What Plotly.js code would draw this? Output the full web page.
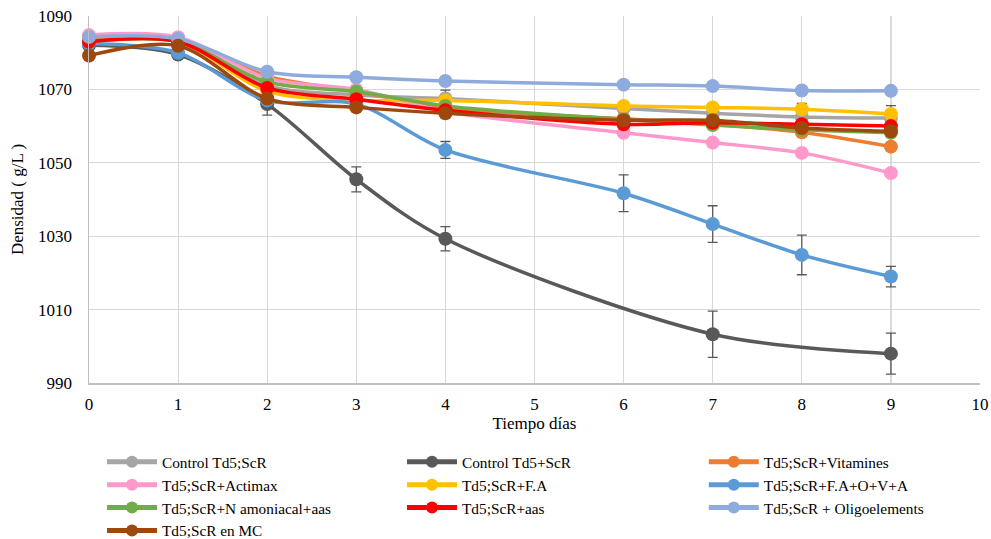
<!DOCTYPE html>
<html>
<head>
<meta charset="utf-8">
<script src="https://cdn.plot.ly/plotly-3.0.1.min.js"></script>
<style>html,body{margin:0;padding:0;background:#fff;}#chart{width:991px;height:539px;}</style>
</head>
<body>
<div id="chart"></div>
<script>
var days = [0, 1, 2, 3, 4, 6, 7, 8, 9];

var controlTd5ScR     = [1083.0, 1083.5, 1071.0, 1068.5, 1067.5, 1064.8, 1063.5, 1062.5, 1062.2];
var controlTd5plusScR = [1082.0, 1079.5, 1066.0, 1045.5, 1029.3, null, 1003.3, null, 998.0];
var vitamines         = [1083.5, 1083.5, 1073.6, 1069.5, 1065.0, 1062.0, 1060.5, 1058.3, 1054.4];
var actimax           = [1084.8, 1084.2, 1073.0, 1070.0, 1064.0, 1058.2, 1055.5, 1052.7, 1047.2];
var fa                = [1083.0, 1083.0, 1069.5, 1067.0, 1067.0, 1065.5, 1065.1, 1064.6, 1063.3];
var faOVA             = [1082.5, 1080.0, 1067.0, 1066.0, 1053.5, 1041.7, 1033.3, 1024.9, 1019.0];
var nAmoniacal        = [1083.0, 1083.0, 1072.0, 1069.4, 1065.5, 1061.8, 1060.3, 1059.0, 1058.2];
var aas               = [1083.0, 1083.0, 1070.4, 1067.3, 1064.3, 1060.5, 1060.9, 1060.5, 1060.0];
var oligoelements     = [1084.3, 1083.8, 1074.8, 1073.3, 1072.3, 1071.3, 1070.9, 1069.7, 1069.6];
var enMC              = [1079.2, 1081.9, 1067.5, 1065.1, 1063.5, 1061.6, 1061.6, 1059.5, 1058.6];

var errControlTd5ScR     = [0, 0, 0, 0, 2.3, 1.5, 2.5, 3.7, 3.4];
var errControlTd5plusScR = [0, 0, 3.0, 3.4, 3.3, 0, 6.3, 0, 5.6];
var errFaOVA             = [0, 0, 0, 0, 2.3, 5.0, 5.0, 5.4, 2.8];

var seriesNames = [
  "Control Td5;ScR", "Control Td5+ScR", "Td5;ScR+Vitamines",
  "Td5;ScR+Actimax", "Td5;ScR+F.A", "Td5;ScR+F.A+O+V+A",
  "Td5;ScR+N amoniacal+aas", "Td5;ScR+aas", "Td5;ScR + Oligoelements",
  "Td5;ScR en MC"
];
var seriesValues = [controlTd5ScR, controlTd5plusScR, vitamines, actimax, fa, faOVA, nAmoniacal, aas, oligoelements, enMC];
var seriesErrors = [errControlTd5ScR, errControlTd5plusScR, null, null, null, errFaOVA, null, null, null, null];
var seriesColors = ["#A5A5A5", "#595959", "#ED7D31", "#FF99CC", "#FFC000", "#5B9BD5", "#70AD47", "#FF0000", "#8FAADC", "#9E480E"];
var legendIds = ["legend", "legend2", "legend3"];

var traces = seriesNames.map(function (name, i) {
  var t = {
    type: "scatter",
    mode: "lines+markers",
    name: name,
    legend: legendIds[i % 3],
    x: days,
    y: seriesValues[i],
    connectgaps: true,
    cliponaxis: false,
    line: { color: seriesColors[i], width: 3.5, shape: "spline", smoothing: 0.9 },
    marker: { color: seriesColors[i], size: 14 }
  };
  if (seriesErrors[i]) {
    t.error_y = { type: "data", array: seriesErrors[i], visible: true, color: "#595959", thickness: 1.3, width: 5 };
  }
  return t;
});

var fontFam = "Liberation Serif, Times New Roman, serif";
function legendAt(xp) {
  return {
    orientation: "v",
    x: xp, xanchor: "left",
    y: -0.170, yanchor: "top",
    itemsizing: "constant",
    itemwidth: 50,
    font: { family: fontFam, size: 15.3, color: "#000" },
    bgcolor: "rgba(0,0,0,0)"
  };
}
var layout = {
  width: 991, height: 539,
  margin: { l: 89, r: 11, t: 16, b: 156, autoexpand: false },
  paper_bgcolor: "#ffffff",
  plot_bgcolor: "#ffffff",
  font: { family: fontFam, size: 16, color: "#000" },
  showlegend: true,
  xaxis: {
    range: [0, 10], dtick: 1, tick0: 0,
    showgrid: true, gridcolor: "#D9D9D9", gridwidth: 1.2,
    showline: true, linecolor: "#BFBFBF", linewidth: 1.5,
    zeroline: false, ticks: "", ticklabelstandoff: 5,
    tickfont: { family: fontFam, size: 17, color: "#000" },
    title: { text: "Tiempo días", font: { family: fontFam, size: 17 }, standoff: 0 }
  },
  yaxis: {
    range: [990, 1090], dtick: 20, tick0: 990,
    showgrid: true, gridcolor: "#D9D9D9", gridwidth: 1.2,
    showline: true, linecolor: "#BFBFBF", linewidth: 1.5,
    zeroline: false, ticks: "", ticklabelstandoff: 12,
    tickfont: { family: fontFam, size: 17, color: "#000" },
    title: { text: "Densidad ( g/L )", font: { family: fontFam, size: 17 }, standoff: 10 }
  },
  legend: legendAt(0.0146),
  legend2: legendAt(0.3513),
  legend3: legendAt(0.690)
};

Plotly.newPlot("chart", traces, layout, { displayModeBar: false, staticPlot: true });
</script>
</body>
</html>
